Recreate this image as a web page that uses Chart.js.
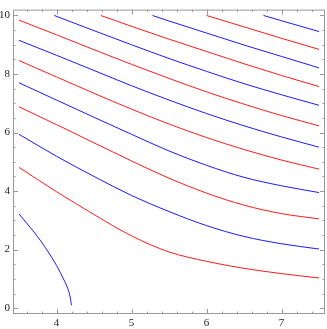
<!DOCTYPE html>
<html>
<head>
<meta charset="utf-8">
<script src="https://cdn.jsdelivr.net/npm/chart.js@4"></script>
<style>
  body { margin: 0; background: #fff; }
  canvas { display: block; }
</style>
</head>
<body>
<canvas id="chart" width="327" height="329"></canvas>
<script>
// contour lines (x, y pairs), bottom to top
const c1x = [3.5, 3.6, 3.7, 3.8, 3.9, 4.0, 4.1, 4.15, 4.18, 4.2];
const c1y = [3.22, 2.91, 2.6, 2.26, 1.88, 1.46, 0.96, 0.67, 0.41, 0.1];
const c2x = [3.5, 4, 4.5, 5, 5.5, 6, 6.5, 7, 7.5];
const c2y = [4.81, 3.98, 3.2, 2.47, 1.92, 1.6, 1.36, 1.18, 1.03];
const c3x = [3.5, 4, 4.5, 5, 5.5, 6, 6.5, 7, 7.5];
const c3y = [5.94, 5.19, 4.5, 3.85, 3.3, 2.82, 2.45, 2.2, 2.02];
const c4x = [3.5, 4, 4.5, 5, 5.5, 6, 6.5, 7, 7.5];
const c4y = [6.88, 6.27, 5.65, 5.03, 4.44, 3.93, 3.52, 3.23, 3.05];
const c5x = [3.5, 4, 4.5, 5, 5.5, 6, 6.5, 7, 7.5];
const c5y = [7.7, 7.11, 6.52, 5.94, 5.37, 4.88, 4.47, 4.18, 3.95];
const c6x = [3.5, 4, 4.5, 5, 5.5, 6, 6.5, 7, 7.5];
const c6y = [8.46, 7.9, 7.34, 6.8, 6.29, 5.83, 5.42, 5.06, 4.75];
const c7x = [3.5, 4, 4.5, 5, 5.5, 6, 6.5, 7, 7.5];
const c7y = [9.15, 8.64, 8.12, 7.6, 7.11, 6.65, 6.23, 5.85, 5.5];
const c8x = [3.5, 4, 4.5, 5, 5.5, 6, 6.5, 7, 7.5];
const c8y = [9.84, 9.34, 8.83, 8.33, 7.85, 7.39, 6.97, 6.58, 6.23];
const c9x = [3.97, 4.5, 5, 5.5, 6, 6.5, 7, 7.5];
const c9y = [10, 9.48, 9.0, 8.53, 8.09, 7.67, 7.29, 6.93];
const c10x = [4.59, 5, 5.5, 6, 6.5, 7, 7.5];
const c10y = [10, 9.63, 9.19, 8.77, 8.35, 7.95, 7.57];
const c11x = [5.28, 5.5, 6, 6.5, 7, 7.5];
const c11y = [10, 9.81, 9.4, 8.99, 8.6, 8.21];
const c12x = [6, 6.5, 7, 7.5];
const c12y = [10, 9.61, 9.22, 8.84];
const c13x = [6.76, 7, 7.5];
const c13y = [10, 9.82, 9.45];

const xTickVals = [4, 5, 6, 7];
const yTickVals = [0, 2, 4, 6, 8, 10];

const curves = [
  [c1x, c1y], [c2x, c2y], [c3x, c3y], [c4x, c4y], [c5x, c5y], [c6x, c6y], [c7x, c7y],
  [c8x, c8y], [c9x, c9y], [c10x, c10y], [c11x, c11y], [c12x, c12y], [c13x, c13y]
];
const BLUE = '#1a1aff';
const RED = '#ff1a1a';

const datasets = curves.map(([xs, ys], i) => ({
  data: xs.map((x, j) => ({ x, y: ys[j] })),
  borderColor: i % 2 === 0 ? BLUE : RED,
  borderWidth: 1,
  pointRadius: 0,
  showLine: true,
  fill: false,
  cubicInterpolationMode: 'monotone'
}));

// frame with inward ticks on all four sides
const frameTicks = {
  id: 'frameTicks',
  afterDraw(chart) {
    const { ctx, chartArea: a, scales } = chart;
    const xs = scales.x, ys = scales.y;
    ctx.save();
    ctx.strokeStyle = '#999';
    ctx.lineWidth = 1;
    ctx.strokeRect(a.left + 0.5, a.top + 0.5, a.right - a.left - 1, a.bottom - a.top - 1);
    ctx.beginPath();
    for (let v = 3.6; v < 7.59; v += 0.2) {
      const major = Math.abs(v - Math.round(v)) < 0.01;
      const len = major ? 5 : 2.5;
      const px = Math.round(xs.getPixelForValue(v)) + 0.5;
      ctx.moveTo(px, a.bottom); ctx.lineTo(px, a.bottom - len);
      ctx.moveTo(px, a.top); ctx.lineTo(px, a.top + len);
    }
    for (let v = 0; v <= 10.01; v += 0.5) {
      const major = Math.abs(v / 2 - Math.round(v / 2)) < 0.01;
      const len = major ? 5 : 2.5;
      const py = Math.round(ys.getPixelForValue(v)) + 0.5;
      ctx.moveTo(a.left, py); ctx.lineTo(a.left + len, py);
      ctx.moveTo(a.right, py); ctx.lineTo(a.right - len, py);
    }
    ctx.stroke();
    ctx.restore();
  }
};

new Chart(document.getElementById('chart'), {
  type: 'scatter',
  data: { datasets },
  options: {
    responsive: false,
    animation: false,
    devicePixelRatio: 1,
    layout: { padding: { top: 1, right: 2, left: 0, bottom: 0 } },
    plugins: { legend: { display: false }, tooltip: { enabled: false } },
    scales: {
      x: {
        type: 'linear',
        min: 3.42,
        max: 7.58,
        afterBuildTicks: s => { s.ticks = xTickVals.map(value => ({ value })); },
        afterFit: s => { s.height = 15; },
        grid: { display: false, drawTicks: false },
        border: { display: false },
        ticks: { padding: 3, color: '#222', font: { family: 'Liberation Serif', size: 11 }, maxRotation: 0 }
      },
      y: {
        type: 'linear',
        min: -0.2,
        max: 10.2,
        afterBuildTicks: s => { s.ticks = yTickVals.map(value => ({ value })); },
        afterFit: s => { s.width = 13; },
        grid: { display: false, drawTicks: false },
        border: { display: false },
        ticks: { padding: 3, color: '#222', font: { family: 'Liberation Serif', size: 11 } }
      }
    }
  },
  plugins: [frameTicks]
});
</script>
</body>
</html>
